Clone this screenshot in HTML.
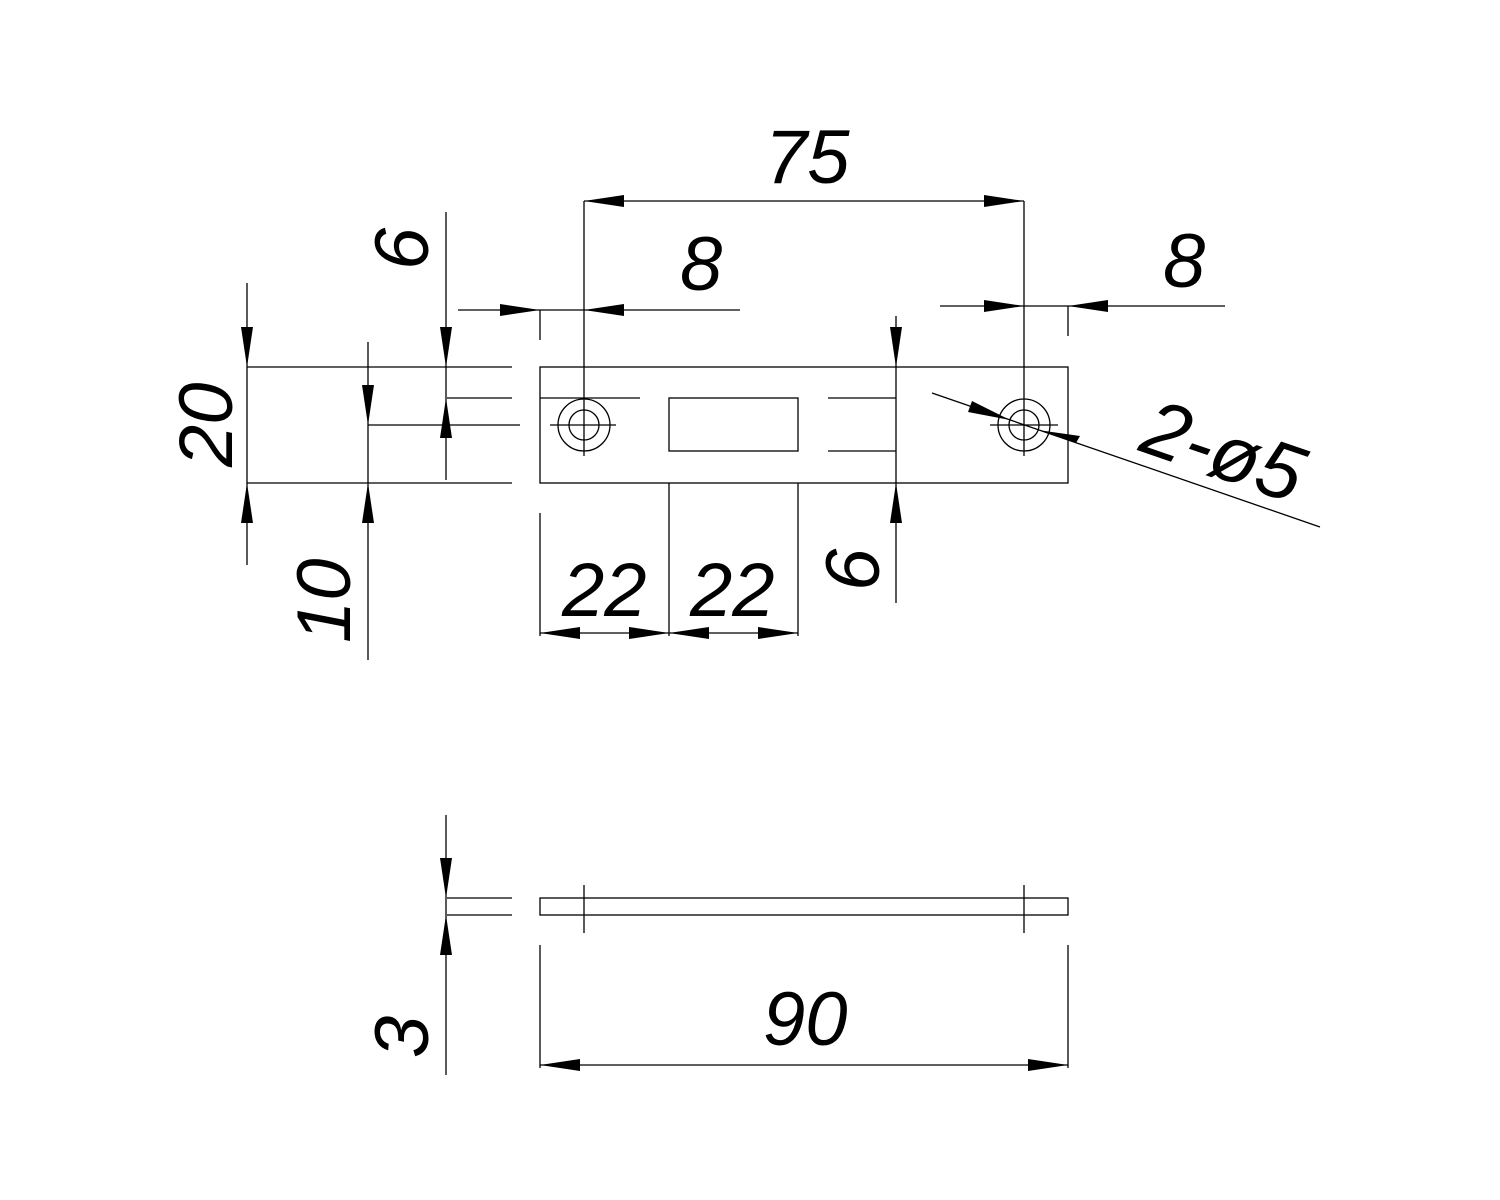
<!DOCTYPE html>
<html><head><style>body{margin:0;background:#fff}svg{display:block}text{font-family:"Liberation Sans",sans-serif;font-style:italic;font-size:76px;fill:#000}</style></head>
<body>
<svg width="1500" height="1200" viewBox="0 0 1500 1200" xmlns="http://www.w3.org/2000/svg">
<g stroke="#000" stroke-width="1.3" fill="none">
<rect x="540" y="367" width="528" height="116"/>
<rect x="669" y="398" width="129" height="53"/>
<circle cx="584" cy="425" r="26"/><circle cx="584" cy="425" r="15"/>
<circle cx="1024" cy="425" r="26"/><circle cx="1024" cy="425" r="15"/>
<line x1="550" y1="425" x2="616" y2="425"/><line x1="584" y1="201" x2="584" y2="456"/>
<line x1="990" y1="425" x2="1058" y2="425"/><line x1="1024" y1="201" x2="1024" y2="456"/>
<line x1="584" y1="201" x2="1024" y2="201"/>
<line x1="458" y1="310" x2="740" y2="310"/><line x1="540" y1="310" x2="540" y2="340"/>
<line x1="940" y1="306" x2="1225" y2="306"/><line x1="1068" y1="306" x2="1068" y2="336"/>
<line x1="247" y1="367" x2="512" y2="367"/><line x1="247" y1="483" x2="512" y2="483"/>
<line x1="247" y1="283" x2="247" y2="565"/>
<line x1="368" y1="425" x2="520" y2="425"/><line x1="368" y1="342" x2="368" y2="660"/>
<line x1="447" y1="398" x2="512" y2="398"/><line x1="540" y1="398" x2="640" y2="398"/>
<line x1="446" y1="212" x2="446" y2="480"/>
<line x1="828" y1="398" x2="896" y2="398"/><line x1="828" y1="451" x2="896" y2="451"/>
<line x1="896" y1="316" x2="896" y2="603"/>
<line x1="540" y1="513" x2="540" y2="636"/><line x1="669" y1="483" x2="669" y2="636"/><line x1="798" y1="483" x2="798" y2="636"/>
<line x1="540" y1="633" x2="798" y2="633"/>
<line x1="932" y1="393" x2="1320" y2="527"/>
<rect x="540" y="898" width="528" height="17"/>
<line x1="584" y1="885" x2="584" y2="933"/><line x1="1024" y1="885" x2="1024" y2="933"/>
<line x1="447" y1="898" x2="512" y2="898"/><line x1="447" y1="915" x2="512" y2="915"/>
<line x1="446" y1="815" x2="446" y2="1075"/>
<line x1="540" y1="945" x2="540" y2="1068"/><line x1="1068" y1="945" x2="1068" y2="1068"/>
<line x1="540" y1="1065" x2="1068" y2="1065"/>
</g>
<g fill="#000">
<polygon points="584,201 624,195 624,207"/><polygon points="1024,201 984,195 984,207"/>
<polygon points="540,310 500,304 500,316"/><polygon points="584,310 624,304 624,316"/>
<polygon points="1024,306 984,300 984,312"/><polygon points="1068,306 1108,300 1108,312"/>
<polygon points="247,367 241,327 253,327"/><polygon points="247,483 241,523 253,523"/>
<polygon points="368,425 362,385 374,385"/><polygon points="368,483 362,523 374,523"/>
<polygon points="446,367 440,327 452,327"/><polygon points="446,398 440,438 452,438"/>
<polygon points="896,367 890,327 902,327"/><polygon points="896,483 890,523 902,523"/>
<polygon points="540,633 580,627 580,639"/><polygon points="669,633 629,627 629,639"/>
<polygon points="669,633 709,627 709,639"/><polygon points="798,633 758,627 758,639"/>
<polygon points="1010,420 972,401 968,412"/><polygon points="1038,430 1076,443 1080,436"/>
<polygon points="446,898 440,858 452,858"/><polygon points="446,915 440,955 452,955"/>
<polygon points="540,1065 580,1059 580,1071"/><polygon points="1068,1065 1028,1059 1028,1071"/>
</g>
<text x="765" y="183">75</text>
<text x="680" y="290">8</text>
<text x="1163" y="287">8</text>
<text x="763" y="1045">90</text>
<text x="562" y="616">22</text>
<text x="690" y="616">22</text>
<text transform="translate(232,467) rotate(-90)">20</text>
<text transform="translate(350,643) rotate(-90)">10</text>
<text transform="translate(428,270) rotate(-90)">6</text>
<text transform="translate(826,546) rotate(90)">9</text>
<text transform="translate(428,1058) rotate(-90)">3</text>
<text transform="translate(1137,450) rotate(19)" style="font-size:80px">2-ø5</text>
</svg>
</body></html>
